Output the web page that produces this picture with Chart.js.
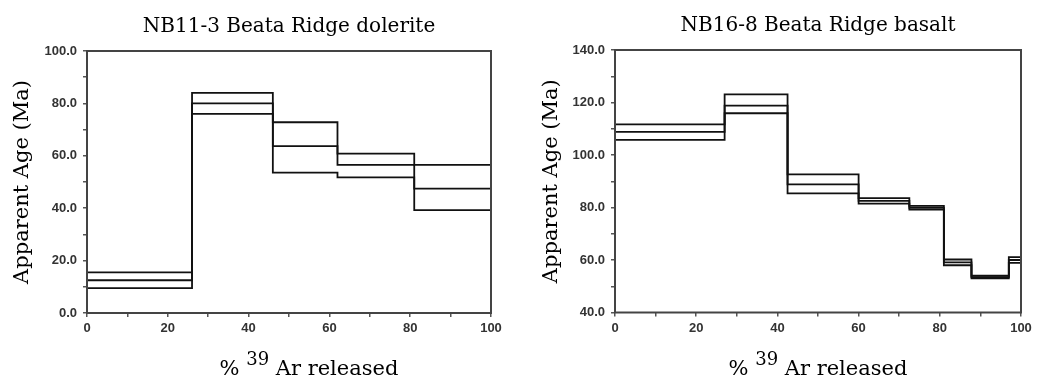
<!DOCTYPE html>
<html><head><meta charset="utf-8">
<script src="https://cdn.jsdelivr.net/npm/chart.js@4.4.1/dist/chart.umd.min.js"></script>
<style>
html,body{margin:0;padding:0;background:#fff;}
#wrap{position:relative;width:1038px;height:379px;background:#fff;}
canvas{position:absolute;top:0;}
</style></head><body>
<div id="wrap">
<canvas id="c1" width="519" height="379" style="left:0px"></canvas>
<canvas id="c2" width="519" height="379" style="left:519px"></canvas>
</div>
<script>
// ---- data ----
const nb11Title = 'NB11-3 Beata Ridge dolerite';
const nb11Edges = [0, 26, 46, 62, 81, 100];
const nb11Upper = [15.5, 84.0, 72.8, 60.8, 56.5];
const nb11Age   = [12.5, 80.0, 63.7, 56.5, 47.5];
const nb11Lower = [9.5, 76.0, 53.6, 51.8, 39.3];
const nb11YRange = [0, 100];

const nb16Title = 'NB16-8 Beata Ridge basalt';
const nb16Edges = [0, 27, 42.5, 60, 72.5, 81, 87.8, 97, 100];
const nb16Upper = [111.7, 123.1, 92.6, 83.6, 80.6, 60.2, 54.0, 61.1];
const nb16Age   = [108.8, 118.8, 88.8, 82.5, 79.9, 59.1, 53.5, 60.0];
const nb16Lower = [105.8, 115.9, 85.4, 81.5, 79.2, 58.0, 53.0, 58.9];
const nb16YRange = [40, 140];

const xRange = [0, 100];
const yAxisTitle = 'Apparent Age (Ma)';
const xTitleParts = ['%', '39', 'Ar released'];

// ---- helpers ----
function stepPoints(edges, vals) {
  const pts = vals.map((v, i) => ({x: edges[i], y: v}));
  pts.push({x: edges[edges.length - 1], y: vals[vals.length - 1]});
  return pts;
}

const framePlugin = {
  id: 'frame',
  afterDraw(chart) {
    const a = chart.chartArea, ctx = chart.ctx;
    ctx.save();
    ctx.strokeStyle = '#444';
    ctx.lineWidth = 2;
    ctx.strokeRect(a.left, a.top, a.right - a.left, a.bottom - a.top);
    ctx.restore();
  }
};

const xTitlePlugin = {
  id: 'xTitle',
  afterDraw(chart, args, opts) {
    const ctx = chart.ctx, a = chart.chartArea;
    ctx.save();
    ctx.fillStyle = '#000';
    ctx.textBaseline = 'alphabetic';
    ctx.textAlign = 'left';
    const mainFont = '21px "DejaVu Serif"';
    const supFont = '18px "DejaVu Serif"';
    ctx.font = mainFont;
    const w0 = ctx.measureText(xTitleParts[0] + ' ').width;
    const w2 = ctx.measureText(' ' + xTitleParts[2]).width;
    ctx.font = supFont;
    const w1 = ctx.measureText(xTitleParts[1]).width;
    const total = w0 + w1 + w2;
    let x = (a.left + a.right) / 2 + opts.shift - total / 2;
    const y = opts.baseline;
    ctx.font = mainFont;
    ctx.fillText(xTitleParts[0] + ' ', x, y);
    x += w0;
    ctx.font = supFont;
    ctx.fillText(xTitleParts[1], x, y - 10);
    x += w1;
    ctx.font = mainFont;
    ctx.fillText(' ' + xTitleParts[2], x, y);
    ctx.restore();
  }
};

function makeChart(id, cfg) {
  const lineDs = (vals, w) => ({
    data: stepPoints(cfg.edges, vals),
    stepped: true,
    borderColor: '#111',
    borderWidth: w,
    pointRadius: 0,
    fill: false,
    tension: 0
  });
  const tickFont = {family: '"Liberation Sans", Arial, sans-serif', size: 13, weight: 'bold'};
  return new Chart(document.getElementById(id), {
    type: 'line',
    data: {datasets: [lineDs(cfg.upper, 1.8), lineDs(cfg.age, 1.8), lineDs(cfg.lower, 1.8)]},
    plugins: [framePlugin, xTitlePlugin],
    options: {
      responsive: false,
      devicePixelRatio: 1,
      animation: false,
      layout: {padding: {left: 0, right: cfg.padRight, top: 0, bottom: 0}},
      plugins: {
        legend: {display: false},
        tooltip: {enabled: false},
        title: {
          display: true, text: cfg.title, fullSize: false, color: '#000',
          font: {family: '"DejaVu Serif", serif', size: 20, weight: 'normal'},
          padding: {top: cfg.titleTop, bottom: cfg.titleBottom}
        },
        xTitle: {shift: cfg.xTitleShift, baseline: 375}
      },
      scales: {
        x: {
          type: 'linear', min: xRange[0], max: xRange[1],
          afterFit: s => { s.height = cfg.xHeight; },
          border: {display: false},
          grid: {display: true, drawOnChartArea: false, drawTicks: true, tickLength: 4, color: '#555', lineWidth: 1.5},
          ticks: {stepSize: 10, autoSkip: false, maxRotation: 0, padding: 4, color: '#333', font: tickFont,
            callback: v => (Math.round(v) % 20 === 0 ? String(Math.round(v)) : '')}
        },
        y: {
          type: 'linear', min: cfg.yRange[0], max: cfg.yRange[1],
          afterFit: s => { s.width = cfg.yWidth; },
          border: {display: false},
          grid: {display: true, drawOnChartArea: false, drawTicks: true, tickLength: 4, color: '#555', lineWidth: 1.5},
          ticks: {stepSize: 10, autoSkip: false, padding: 6, color: '#333', font: tickFont,
            callback: v => (Math.round(v) % 20 === 0 ? Math.round(v).toFixed(1) : '')},
          title: {display: true, text: yAxisTitle, color: '#000',
            font: {family: '"DejaVu Serif", serif', size: 21, weight: 'normal'},
            padding: {top: cfg.yTitlePad, bottom: 0}}
        }
      }
    }
  });
}

makeChart('c1', {
  title: nb11Title, edges: nb11Edges, upper: nb11Upper, age: nb11Age, lower: nb11Lower,
  yRange: nb11YRange, padRight: 28, yWidth: 87, xHeight: 66,
  titleTop: 15, titleBottom: 12, yTitlePad: 10.4, xTitleShift: 20
});
makeChart('c2', {
  title: nb16Title, edges: nb16Edges, upper: nb16Upper, age: nb16Age, lower: nb16Lower,
  yRange: nb16YRange, padRight: 17, yWidth: 96, xHeight: 66.5,
  titleTop: 14, titleBottom: 12, yTitlePad: 20.1, xTitleShift: 0
});
</script>
</body></html>
